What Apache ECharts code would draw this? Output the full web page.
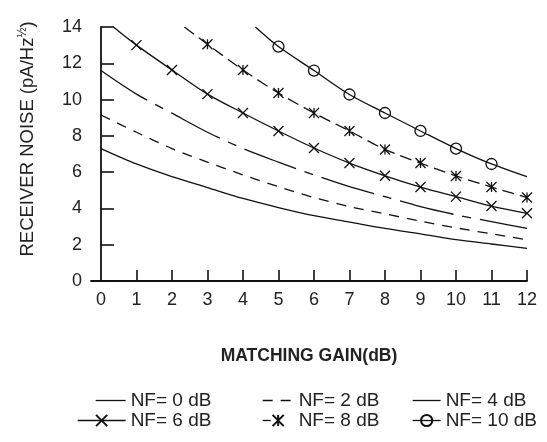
<!DOCTYPE html>
<html>
<head>
<meta charset="utf-8">
<script src="https://cdn.jsdelivr.net/npm/echarts@6/dist/echarts.min.js"></script>
<style>
html,body{margin:0;padding:0;background:#fff;}
#chart{width:547px;height:442px;}
</style>
</head>
<body>
<div id="chart"></div>
<script>
// Matching gain (dB) and receiver noise (pA/Hz^1/2)
const gain = [0, 1, 2, 3, 4, 5, 6, 7, 8, 9, 10, 11, 12];
const nf0 = [7.3, 6.45, 5.75, 5.15, 4.55, 4.05, 3.6, 3.25, 2.9, 2.6, 2.28, 2.04, 1.8];
const nf2 = [9.15, 8.2, 7.3, 6.55, 5.85, 5.2, 4.6, 4.1, 3.7, 3.3, 2.93, 2.6, 2.27];
const nf4 = [11.6, 10.3, 9.25, 8.2, 7.3, 6.55, 5.85, 5.2, 4.65, 4.1, 3.65, 3.27, 2.9];
const nf6Gain = [0.35, 1, 2, 3, 4, 5, 6, 7, 8, 9, 10, 11, 12];
const nf6 = [14.0, 13.0, 11.63, 10.3, 9.26, 8.27, 7.33, 6.5, 5.8, 5.18, 4.65, 4.13, 3.73];
const nf8Gain = [2.35, 3, 4, 5, 6, 7, 8, 9, 10, 11, 12];
const nf8 = [14.0, 13.05, 11.63, 10.36, 9.26, 8.27, 7.25, 6.5, 5.79, 5.18, 4.6];
const nf10Gain = [4.35, 5, 6, 7, 8, 9, 10, 11, 12];
const nf10 = [14.0, 12.92, 11.6, 10.28, 9.26, 8.27, 7.3, 6.45, 5.75];
// gains at which a marker is drawn
const nf6Marked = [1, 2, 3, 4, 5, 6, 7, 8, 9, 10, 11, 12];
const nf8Marked = [3, 4, 5, 6, 7, 8, 9, 10, 11, 12];
const nf10Marked = [5, 6, 7, 8, 9, 10, 11];
const xTicks = [1, 2, 3, 4, 5, 6, 7, 8, 9, 10, 11, 12];
const xLabels = [0, 1, 2, 3, 4, 5, 6, 7, 8, 9, 10, 11, 12];
const names = ['NF= 0 dB', 'NF= 2 dB', 'NF= 4 dB', 'NF= 6 dB', 'NF= 8 dB', 'NF= 10 dB'];

const INK = '#111';
const FONT = 'Arial, "Liberation Sans", sans-serif';

function pts(xs, ys, marked) {
  return xs.map((x, i) => {
    const item = { value: [x, ys[i]] };
    if (marked && marked.indexOf(x) < 0) item.symbol = 'none';
    return item;
  });
}

const X_SYM = 'path://M0,0L10,10M10,0L0,10';
const ZH_SYM = 'path://M0,0L10,10M10,0L0,10M5,0L5,10';
const DASH2 = [10, 8];
const DASH4 = [55, 9, 9, 9];
const DASH8 = [12, 6];

function lineSeries(name, data, dash, symbol, size) {
  return {
    type: 'line', name: name, data: data, smooth: 0.3,
    symbol: symbol || 'none', symbolSize: size || 10,
    showSymbol: !!symbol,
    lineStyle: { color: INK, width: 1.3, type: dash || 'solid' },
    itemStyle: { color: 'transparent', borderColor: INK, borderWidth: 1.3 },
    emphasis: { disabled: true },
    animation: false
  };
}

function legend(name, left, top, w, dash, hideSymbol) {
  const l = {
    data: [name], left: left, top: top, itemWidth: w, itemHeight: 14, padding: 0,
    textStyle: { fontFamily: FONT, fontSize: 19, color: '#222' },
    lineStyle: { color: INK, width: 1.3, type: dash || 'solid' },
    selectedMode: false
  };
  if (hideSymbol) l.itemStyle = { opacity: 0 };
  return l;
}

const chart = echarts.init(document.getElementById('chart'));
chart.setOption({
  backgroundColor: '#fff',
  animation: false,
  grid: { left: 91, right: 20, top: 27, bottom: 161 },
  xAxis: {
    type: 'value', min: -0.28, max: 12,
    name: 'MATCHING GAIN(dB)', nameLocation: 'middle', nameGap: 66,
    nameTextStyle: { fontFamily: FONT, fontSize: 17.5, fontWeight: 'bold', color: '#222' },
    axisLine: { lineStyle: { color: INK, width: 1.8 } },
    axisTick: { inside: true, length: 11, lineStyle: { color: INK, width: 1.6 }, customValues: xTicks },
    axisLabel: { customValues: xLabels, margin: 10, fontFamily: FONT, fontSize: 18, color: '#222' },
    splitLine: { show: false }
  },
  yAxis: {
    type: 'value', min: 0, max: 14, interval: 2,
    name: 'RECEIVER NOISE (pA/Hz{s|½})', nameLocation: 'middle', nameGap: 53,
    nameTextStyle: { fontFamily: FONT, fontSize: 18.5, color: '#222', padding: [0, 0, 0, 30],
      rich: { s: { fontFamily: FONT, fontSize: 12, color: '#222', padding: [0, 0, 9, 0] } } },
    axisLine: { show: true, lineStyle: { color: INK, width: 1.8 } },
    axisTick: { show: true, inside: true, length: 13, lineStyle: { color: INK, width: 1.6 } },
    axisLabel: { margin: 9, fontFamily: FONT, fontSize: 18, color: '#222' },
    splitLine: { show: false }
  },
  legend: [
    legend(names[0], 95, 391, 30, 'solid', true),
    legend(names[1], 262, 391, 31, DASH2, true),
    legend(names[2], 412, 391, 28, 'solid', true),
    legend(names[3], 77, 411, 48, 'solid', false),
    legend(names[4], 262, 411, 31, [8, 40], false),
    legend(names[5], 412, 411, 28, 'solid', false)
  ],
  series: [
    lineSeries(names[0], pts(gain, nf0), 'solid'),
    lineSeries(names[1], pts(gain, nf2), DASH2),
    lineSeries(names[2], pts(gain, nf4), DASH4),
    lineSeries(names[3], pts(nf6Gain, nf6, nf6Marked), 'solid', X_SYM, 10),
    lineSeries(names[4], pts(nf8Gain, nf8, nf8Marked), DASH8, ZH_SYM, 10),
    lineSeries(names[5], pts(nf10Gain, nf10, nf10Marked), 'solid', 'circle', 11)
  ]
});
</script>
</body>
</html>
